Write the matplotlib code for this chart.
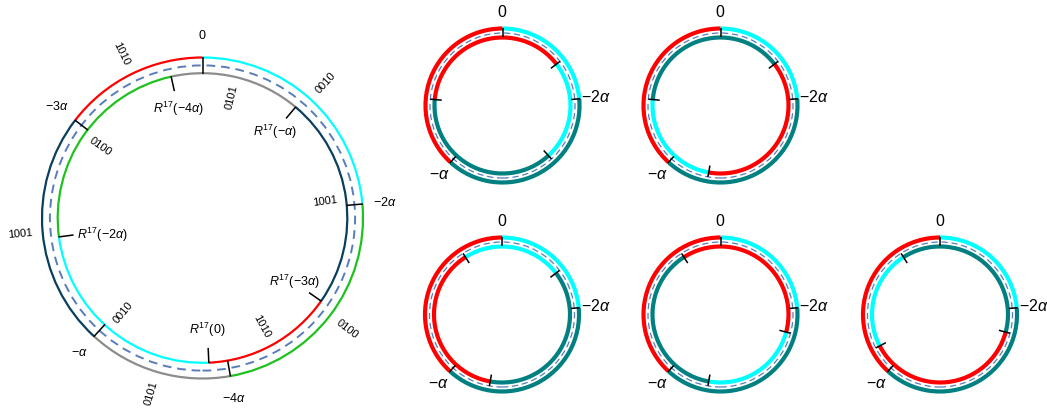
import numpy as np
import matplotlib
matplotlib.use('Agg')
import matplotlib.pyplot as plt
from matplotlib.patches import Arc, Circle

plt.rcParams['font.family'] = ['Liberation Sans', 'DejaVu Sans']
plt.rcParams['mathtext.fontset'] = 'custom'
plt.rcParams['mathtext.rm'] = 'Liberation Sans'
plt.rcParams['mathtext.it'] = 'Liberation Sans:italic'
plt.rcParams['mathtext.bf'] = 'Liberation Sans:bold'

# ---------------- data ----------------
alpha_step = 137.5          # angular size of one step "-alpha", counter-clockwise (deg)

big_k = [0, 1, 2, 3, 4]     # points -k*alpha
big_labels = ['$0$', r'$-\alpha$', r'$-2\alpha$', r'$-3\alpha$', r'$-4\alpha$']
big_codes = ['1010', '0101', '0010', '1001', '0100']     # arc starting at point k (ccw)
big_colors = ['#ff0000', '#8c8c8c', '#00ffff', '#0b3f5e', '#1ec21e']
big_power = 17
big_r_labels = [r'$R^{17}(0)$', r'$R^{17}(-\alpha)$', r'$R^{17}(-2\alpha)$',
                r'$R^{17}(-3\alpha)$', r'$R^{17}(-4\alpha)$']

small_k = [0, 1, 2]
small_labels = ['$0$', r'$-\alpha$', r'$-2\alpha$']
small_colors = ['#ff0000', '#008080', '#00ffff']
small_powers = [3, 4, 5, 6, 7]

dash_color = '#5a7dba'

# ---------------- layout ----------------
fig = plt.figure(figsize=(10.47, 4.12), dpi=100)
ax = fig.add_axes([0, 0, 1, 1])
ax.set_xlim(0, 1047)
ax.set_ylim(0, 412)
ax.axis('off')


def ang(k, power):
    return (90 + k * alpha_step - power * alpha_step) % 360


def pt(c, r, a):
    t = np.deg2rad(a)
    return c[0] + r * np.cos(t), c[1] + r * np.sin(t)


def ring(c, r, ks, power, colors, lw):
    angles = {k: ang(k, power) for k in ks}
    order = sorted(ks, key=lambda k: angles[k])
    spans = {}
    for i, k in enumerate(order):
        a1 = angles[k]
        a2 = angles[order[(i + 1) % len(order)]]
        if a2 <= a1:
            a2 += 360
        spans[k] = (a1, a2)
        ax.add_patch(Arc(c, 2 * r, 2 * r, theta1=a1, theta2=a2,
                         color=colors[ks.index(k)], lw=lw, zorder=2))
    return spans


def tick(c, r1, r2, a, lw):
    x1, y1 = pt(c, r1, a)
    x2, y2 = pt(c, r2, a)
    ax.plot([x1, x2], [y1, y2], color='black', lw=lw, zorder=4,
            solid_capstyle='butt')


def radial_text(c, r, a, s, size):
    a = (a + 180) % 360 - 180
    rot = a if -90 < a <= 90 else a - 180
    x, y = pt(c, r, a)
    ax.text(x, y, s, fontsize=size, rotation=rot, rotation_mode='anchor',
            ha='center', va='center')


# ---------------- big circle ----------------
bc = (202.5, 194.0)
R_OUT, R_IN, R_DASH = 160.5, 144.8, 152.6
outer_spans = ring(bc, R_OUT, big_k, 0, big_colors, 1.6)
inner_spans = ring(bc, R_IN, big_k, big_power, big_colors, 1.6)
ax.add_patch(Circle(bc, R_DASH, fill=False, ec=dash_color, lw=1.4,
                    ls=(0, (4.5, 3)), zorder=1))

for i, k in enumerate(big_k):
    a = ang(k, 0)
    tick(bc, R_OUT + 0.5, R_IN - 0.5, a, 1.1)
    x, y = pt(bc, 183, a)
    ax.text(x, y, big_labels[i], fontsize=9, ha='center', va='center')
    ai = ang(k, big_power)
    tick(bc, R_IN + 0.5, 130, ai, 1.1)
    cx = np.cos(np.deg2rad(ai))
    if cx < -0.9:
        x, y = pt(bc, 127, ai)
        ax.text(x, y, big_r_labels[i], fontsize=9, ha='left', va='center')
    elif cx > 0.9:
        x, y = pt(bc, 127, ai)
        ax.text(x, y, big_r_labels[i], fontsize=9, ha='right', va='center')
    else:
        x, y = pt(bc, 112, ai)
        ax.text(x, y, big_r_labels[i], fontsize=9, ha='center', va='center')

for i, k in enumerate(big_k):
    a1, a2 = outer_spans[k]
    radial_text(bc, 183, (a1 + a2) / 2, big_codes[i], 8)
    a1, a2 = inner_spans[k]
    radial_text(bc, 124, (a1 + a2) / 2, big_codes[i], 8)

# ---------------- small circles ----------------
small_centers = [(502.5, 306.5), (720.5, 306.5),
                 (502.0, 97.5), (720.5, 97.5), (940.0, 97.5)]
r_out, r_in, r_dash = 77.0, 68.0, 72.5
for c, n in zip(small_centers, small_powers):
    ring(c, r_out, small_k, 0, small_colors, 3.0)
    ring(c, r_in, small_k, n, small_colors, 3.0)
    ax.add_patch(Circle(c, r_dash, fill=False, ec=dash_color, lw=0.9,
                        ls=(0, (5, 3)), zorder=1))
    for i, k in enumerate(small_k):
        a = ang(k, 0)
        tick(c, r_out + 1, r_in + 1, a, 1.1)
        x, y = pt(c, 94, a)
        ax.text(x, y, small_labels[i], fontsize=11.5, ha='center', va='center')
        tick(c, r_dash, r_in - 7, ang(k, n), 1.1)

fig.savefig('out.png', dpi=100)
